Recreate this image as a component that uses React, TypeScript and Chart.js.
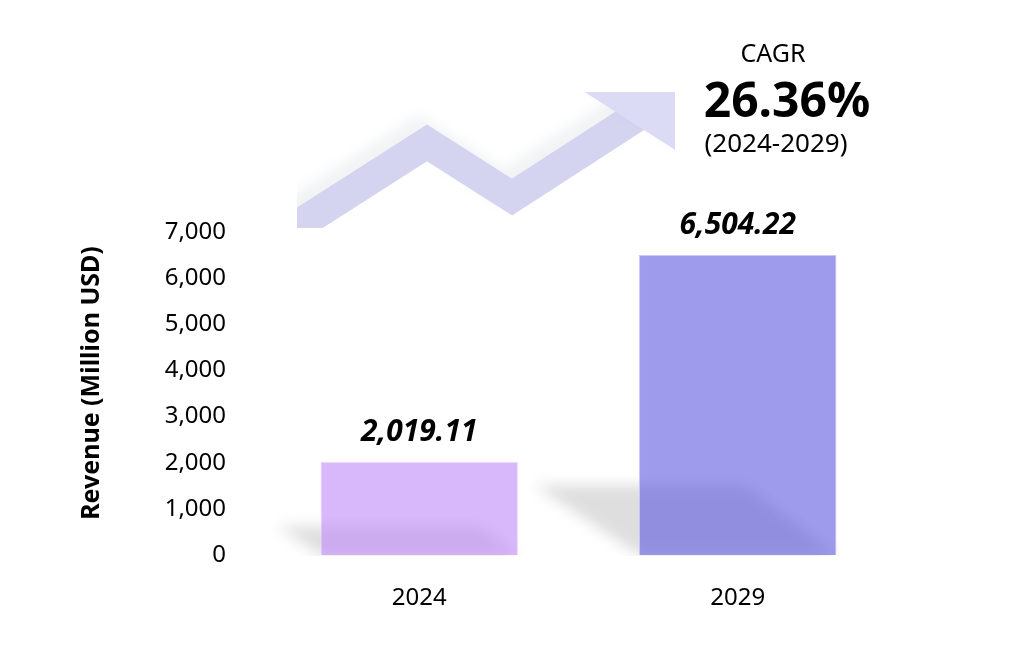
import { useEffect, useRef } from "react";
import { Chart, registerables } from "chart.js";

Chart.register(...registerables);

const categories = ["2024", "2029"];
const revenue = [2019.11, 6504.22];
const yMin = 0;
const yMax = 7000;
const yStep = 1000;
const yAxisTitle = "Revenue (Million USD)";
const cagrLabel = "CAGR";
const cagrValue = "26.36%";
const cagrPeriod = "(2024-2029)";

const FONT = "'Noto Sans', 'Open Sans', sans-serif";
const W = 1025;
const H = 671;

const decorPlugin = {
  id: "decor",
  beforeDraw(chart: any) {
    const ctx = chart.ctx as CanvasRenderingContext2D;
    // growth arrow (decoration)
    ctx.save();
    ctx.beginPath();
    ctx.rect(297, 92, 378, 136);
    ctx.clip();
    ctx.shadowColor = "rgba(150,165,175,0.13)";
    ctx.shadowBlur = 12;
    ctx.shadowOffsetX = -8;
    ctx.shadowOffsetY = -10;
    ctx.strokeStyle = "rgb(212,212,241)";
    ctx.lineWidth = 31;
    ctx.lineJoin = "miter";
    ctx.lineCap = "butt";
    ctx.beginPath();
    ctx.moveTo(250, 256);
    ctx.lineTo(427, 143);
    ctx.lineTo(512, 197);
    ctx.lineTo(648, 109);
    ctx.stroke();
    ctx.fillStyle = "rgb(219,219,246)";
    ctx.beginPath();
    ctx.moveTo(555, 73);
    ctx.lineTo(705, 169);
    ctx.lineTo(780, 10);
    ctx.closePath();
    ctx.fill();
    ctx.restore();
  },
  beforeDatasetsDraw(chart: any) {
    const ctx = chart.ctx as CanvasRenderingContext2D;
    const meta = chart.getDatasetMeta(0);
    meta.data.forEach((bar: any) => {
      const { x, y, base, width } = bar.getProps(["x", "y", "base", "width"], true);
      const L = x - width / 2;
      const R = x + width / 2;
      const h = base - y;
      const hs = 10 + 0.2 * h;
      ctx.save();
      ctx.beginPath();
      ctx.rect(0, 0, W, base + 1);
      ctx.clip();
      ctx.filter = "blur(7px)";
      ctx.fillStyle = "rgba(0,0,0,0.13)";
      ctx.beginPath();
      ctx.moveTo(L - 1.5 * hs, base - hs);
      ctx.lineTo(R - 1.3 * hs, base - hs);
      ctx.lineTo(R, base);
      ctx.lineTo(L, base);
      ctx.closePath();
      ctx.fill();
      ctx.restore();
    });
  },
  afterDatasetsDraw(chart: any) {
    const ctx = chart.ctx as CanvasRenderingContext2D;
    const meta = chart.getDatasetMeta(0);
    ctx.save();
    ctx.fillStyle = "#000";
    ctx.textAlign = "center";
    ctx.textBaseline = "alphabetic";
    ctx.font = `italic bold 30px ${FONT}`;
    meta.data.forEach((bar: any, i: number) => {
      const v = revenue[i];
      const txt = v.toLocaleString("en-US", { minimumFractionDigits: 2, maximumFractionDigits: 2 });
      ctx.fillText(txt, bar.x, bar.y - 21);
    });
    // CAGR block
    ctx.font = `25px ${FONT}`;
    ctx.fillText(cagrLabel, 773, 62);
    ctx.font = `bold 48px ${FONT}`;
    ctx.fillText(cagrValue, 787, 117);
    ctx.font = `26px ${FONT}`;
    ctx.fillText(cagrPeriod, 776, 152);
    // y axis title
    ctx.translate(92, 383);
    ctx.rotate(-Math.PI / 2);
    ctx.textBaseline = "middle";
    ctx.font = `bold 25px ${FONT}`;
    ctx.fillText(yAxisTitle, 0, 0);
    ctx.restore();
  },
};

export default function App() {
  const ref = useRef<HTMLCanvasElement | null>(null);

  useEffect(() => {
    if (!ref.current) return;
    const chart = new Chart(ref.current, {
      type: "bar",
      data: {
        labels: categories,
        datasets: [
          {
            data: revenue,
            backgroundColor: ["rgba(190,137,247,0.6)", "rgba(93,88,223,0.6)"],
            borderColor: ["rgba(238,218,255,0.9)", "rgba(196,194,250,0.9)"],
            borderWidth: 1,
            barPercentage: 0.62,
            categoryPercentage: 1,
          },
        ],
      },
      options: {
        responsive: false,
        animation: false,
        devicePixelRatio: 1,
        layout: { padding: { left: 70, right: 128, top: 232, bottom: 56 } },
        plugins: {
          legend: { display: false },
          tooltip: { enabled: false },
          title: { display: false },
        },
        scales: {
          x: {
            grid: { display: false },
            border: { display: false },
            ticks: { color: "#000", padding: 21, font: { family: FONT, size: 24 } },
            afterFit(s: any) {
              s.height = 60;
            },
          },
          y: {
            min: yMin,
            max: yMax,
            grid: { display: false },
            border: { display: false },
            ticks: {
              stepSize: yStep,
              color: "#000",
              padding: 26,
              font: { family: FONT, size: 24 },
              callback: (v: any) => Number(v).toLocaleString("en-US"),
            },
            afterFit(s: any) {
              s.width = 190;
            },
          },
        },
      },
      plugins: [decorPlugin],
    });
    return () => chart.destroy();
  }, []);

  return (
    <div style={{ position: "absolute", left: 0, top: 0, width: W, height: H, background: "#fff" }}>
      <canvas ref={ref} width={W} height={H} style={{ display: "block", width: W, height: H }} />
    </div>
  );
}
